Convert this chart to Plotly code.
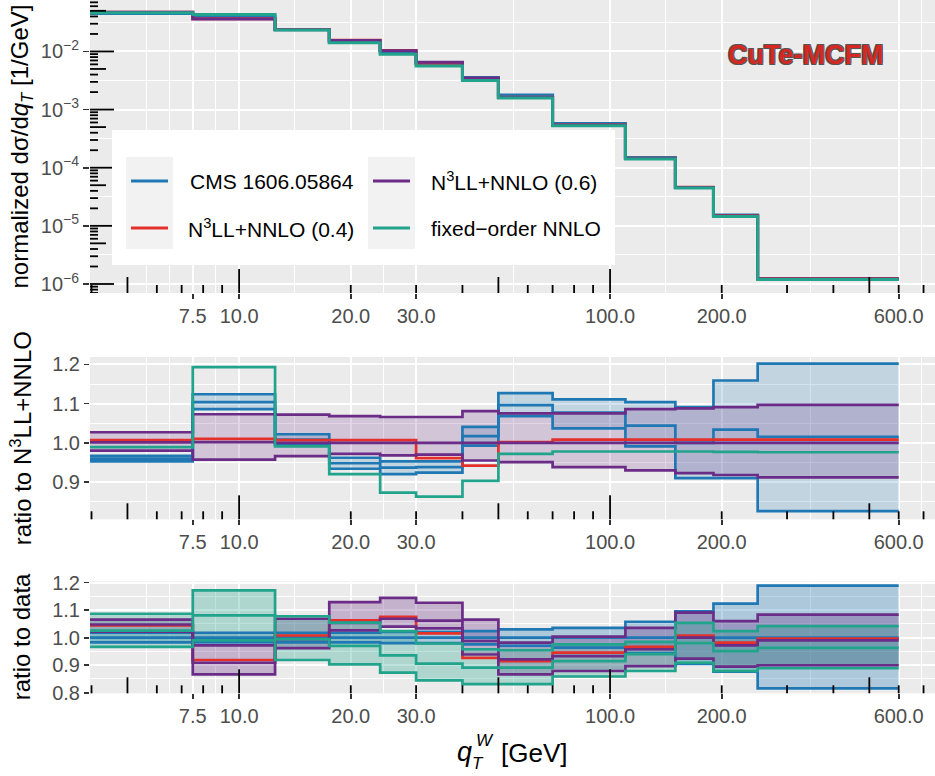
import math
import plotly.graph_objects as go

W, H = 935, 776

# ---------------- data ----------------
edges = [0, 7.5, 12.5, 17.5, 24, 30, 40, 50, 70, 110, 150, 190, 250, 600]
x_ticks = [7.5, 10, 20, 30, 100, 200, 600]
x_tick_labels = ["7.5", "10.0", "20.0", "30.0", "100.0", "200.0", "600.0"]
y_top_ticks = [1e-6, 1e-5, 1e-4, 1e-3, 1e-2]
y_top_labels = ["10<sup>−6</sup>", "10<sup>−5</sup>", "10<sup>−4</sup>", "10<sup>−3</sup>", "10<sup>−2</sup>"]
ratio_ticks_mid = [0.9, 1.0, 1.1, 1.2]
ratio_ticks_bot = [0.8, 0.9, 1.0, 1.1, 1.2]

series_names = ["CMS 1606.05864", "N<sup>3</sup>LL+NNLO (0.4)", "N<sup>3</sup>LL+NNLO (0.6)", "fixed−order NNLO"]

# normalized dsigma/dqT of the reference prediction N3LL+NNLO (0.6) [1/GeV]
n3ll06_norm = [0.047, 0.0362, 0.0236, 0.0154, 0.0103, 0.0065, 0.0035, 0.00162,
               5.37e-4, 1.44e-4, 4.57e-5, 1.48e-5, 1.22e-6]

# ratio to N3LL+NNLO (middle panel)
cms_mid = [0.960, 1.104, 1.008, 0.948, 0.937, 0.938, 1.017, 1.096, 1.077, 1.044, 1.000, 1.034, 1.015]
cms_mid_lo = [0.953, 1.086, 0.995, 0.934, 0.920, 0.924, 0.993, 1.068, 1.037, 0.991, 0.910, 0.910, 0.826]
cms_mid_hi = [0.967, 1.124, 1.022, 0.962, 0.953, 0.953, 1.041, 1.127, 1.111, 1.104, 1.091, 1.159, 1.202]
n3ll04_mid = [1.007, 1.010, 1.007, 1.007, 1.007, 0.961, 0.942, 1.002, 1.008, 1.008, 1.008, 1.008, 1.008]
n3ll06_mid = [1.001, 1.002, 1.000, 1.000, 1.000, 1.000, 1.000, 1.000, 1.000, 1.000, 1.000, 1.000, 1.000]
n3ll06_mid_lo = [0.980, 0.957, 0.966, 0.972, 0.968, 0.970, 0.955, 0.951, 0.938, 0.930, 0.923, 0.918, 0.912]
n3ll06_mid_hi = [1.027, 1.073, 1.072, 1.068, 1.066, 1.066, 1.081, 1.075, 1.075, 1.086, 1.088, 1.091, 1.097]
fixed_mid = [0.989, 1.193, 0.991, 0.920, 0.873, 0.863, 0.903, 0.972, 0.978, 0.978, 0.978, 0.977, 0.976]

# ratio to data (bottom panel)
cms_bot = [1.000, 1.000, 1.000, 1.000, 1.000, 1.000, 1.000, 1.000, 1.000, 1.000, 1.000, 1.000, 1.000]
cms_bot_lo = [0.983, 0.983, 0.983, 0.983, 0.980, 0.980, 0.976, 0.970, 0.964, 0.943, 0.905, 0.877, 0.816]
cms_bot_hi = [1.018, 1.018, 1.018, 1.018, 1.021, 1.021, 1.024, 1.030, 1.036, 1.058, 1.096, 1.124, 1.189]
n3ll04_bot = [1.045, 0.919, 1.008, 1.063, 1.076, 1.016, 0.927, 0.915, 0.946, 0.967, 1.008, 0.982, 0.997]
n3ll06_bot = [1.048, 0.909, 0.995, 1.054, 1.069, 1.062, 0.988, 0.921, 0.933, 0.958, 1.000, 0.972, 0.990]
n3ll06_bot_lo = [1.022, 0.867, 0.962, 1.027, 1.040, 1.034, 0.939, 0.867, 0.879, 0.897, 0.924, 0.895, 0.900]
n3ll06_bot_hi = [1.066, 0.972, 1.069, 1.129, 1.145, 1.127, 1.066, 0.982, 1.004, 1.036, 1.091, 1.060, 1.084]
fixed_bot = [1.026, 1.081, 0.995, 0.970, 0.936, 0.906, 0.891, 0.891, 0.915, 0.940, 0.980, 0.951, 0.963]
fixed_bot_lo = [0.967, 0.990, 0.919, 0.903, 0.873, 0.845, 0.831, 0.831, 0.859, 0.879, 0.909, 0.879, 0.889]
fixed_bot_hi = [1.087, 1.172, 1.078, 1.055, 1.024, 0.979, 0.958, 0.955, 0.976, 0.985, 1.054, 1.024, 1.042]

# ---------------- styling ----------------
BLUE = "#1F78B4"
RED = "#E3302A"
PURPLE = "#6A2C86"
TEAL = "#22A38B"
FONT = "Liberation Sans, Arial, Helvetica, sans-serif"
GRAY_TXT = "#4D4D4D"
PANEL_BG = "#EBEBEB"

def rgba(hexcol, a):
    h = hexcol.lstrip("#")
    return "rgba(%d,%d,%d,%.3f)" % (int(h[0:2], 16), int(h[2:4], 16), int(h[4:6], 16), a)

# pixel layout
PL, PR = 90, 935
TOP = (0, 293)
MID = (357, 519.3)
BOT = (581.3, 693.3)
XRANGE = [0.598, 2.876]
XMIN_PLOT = 1.0   # stand-in for the 0 GeV edge on the log axis (clipped)

def dom(rows):
    return [1 - rows[1] / H, 1 - rows[0] / H]

xs = [XMIN_PLOT if e <= 0 else e for e in edges]

def steps(v):
    return list(v) + [v[-1]]

fig = go.Figure()

def add_line(vals, color, xa, ya, name, width=2.7):
    fig.add_trace(go.Scatter(x=xs, y=steps(vals), mode="lines", name=name,
                             line=dict(color=color, width=width, shape="hv"),
                             xaxis=xa, yaxis=ya, showlegend=False, hoverinfo="skip"))

def add_band(lo, hi, color, alpha, xa, ya, name):
    fig.add_trace(go.Scatter(x=xs, y=steps(lo), mode="lines", name=name,
                             line=dict(width=0, shape="hv"), xaxis=xa, yaxis=ya,
                             showlegend=False, hoverinfo="skip"))
    fig.add_trace(go.Scatter(x=xs, y=steps(hi), mode="lines", name=name,
                             line=dict(width=0, shape="hv"), fill="tonexty",
                             fillcolor=rgba(color, alpha), xaxis=xa, yaxis=ya,
                             showlegend=False, hoverinfo="skip"))

# ---- top panel ----
top_cms = [r * c for r, c in zip(n3ll06_norm, cms_mid)]
top_04 = [r * c for r, c in zip(n3ll06_norm, n3ll04_mid)]
top_06 = [r * c for r, c in zip(n3ll06_norm, n3ll06_mid)]
top_fix = [r * c for r, c in zip(n3ll06_norm, fixed_mid)]
add_line(top_cms, BLUE, "x", "y", series_names[0], 3)
add_line(top_04, RED, "x", "y", series_names[1], 3)
add_line(top_06, PURPLE, "x", "y", series_names[2], 3)
add_line(top_fix, TEAL, "x", "y", series_names[3], 3)

# ---- middle panel ----
add_band(cms_mid_lo, cms_mid_hi, BLUE, 0.2, "x2", "y2", series_names[0])
add_band(n3ll06_mid_lo, n3ll06_mid_hi, PURPLE, 0.2, "x2", "y2", series_names[2])
for v in (cms_mid_hi, cms_mid_lo, cms_mid):
    add_line(v, BLUE, "x2", "y2", series_names[0])
add_line(n3ll04_mid, RED, "x2", "y2", series_names[1])
for v in (n3ll06_mid_hi, n3ll06_mid_lo, n3ll06_mid):
    add_line(v, PURPLE, "x2", "y2", series_names[2])
add_line(fixed_mid, TEAL, "x2", "y2", series_names[3])

# ---- bottom panel ----
add_band(cms_bot_lo, cms_bot_hi, BLUE, 0.3, "x3", "y3", series_names[0])
add_band(n3ll06_bot_lo, n3ll06_bot_hi, PURPLE, 0.3, "x3", "y3", series_names[2])
add_band(fixed_bot_lo, fixed_bot_hi, TEAL, 0.3, "x3", "y3", series_names[3])
for v in (cms_bot_hi, cms_bot_lo, cms_bot):
    add_line(v, BLUE, "x3", "y3", series_names[0])
add_line(n3ll04_bot, RED, "x3", "y3", series_names[1])
for v in (n3ll06_bot_hi, n3ll06_bot_lo, n3ll06_bot):
    add_line(v, PURPLE, "x3", "y3", series_names[2])
for v in (fixed_bot_hi, fixed_bot_lo, fixed_bot):
    add_line(v, TEAL, "x3", "y3", series_names[3])

# ---------------- axes ----------------
minor_x = [10 ** 0.75, 10 ** 0.8125, math.sqrt(75), math.sqrt(200), math.sqrt(600),
           math.sqrt(3000), math.sqrt(20000), math.sqrt(120000), 10 ** 2.84]

def xaxis(anchor):
    return dict(type="log", range=XRANGE, domain=[PL / W, PR / W], anchor=anchor,
                automargin=False,
                tickmode="array", tickvals=x_ticks, ticktext=x_tick_labels,
                ticks="outside", ticklen=5, tickwidth=1.6, tickcolor="#333333",
                tickfont=dict(family=FONT, size=20, color=GRAY_TXT),
                ticklabelstandoff=0,
                showgrid=True, gridcolor="white", gridwidth=2,
                minor=dict(tickmode="array", tickvals=minor_x, showgrid=True,
                           gridcolor="white", gridwidth=1, ticks=""),
                showline=False, zeroline=False, fixedrange=True)

def yaxis_lin(rows, rng, ticks, anchor):
    return dict(range=rng, domain=dom(rows), anchor=anchor, automargin=False,
                tickmode="array", tickvals=ticks, ticktext=["%.1f" % t for t in ticks],
                ticks="outside", ticklen=5, tickwidth=1.6, tickcolor="#333333",
                tickfont=dict(family=FONT, size=20, color=GRAY_TXT),
                ticklabelstandoff=0,
                showgrid=True, gridcolor="white", gridwidth=2,
                minor=dict(tickmode="array", tickvals=[0.85, 0.95, 1.05, 1.15],
                           showgrid=True, gridcolor="white", gridwidth=1, ticks=""),
                showline=False, zeroline=False, fixedrange=True)

fig.update_layout(
    width=W, height=H,
    margin=dict(l=0, r=0, t=0, b=0, pad=0),
    paper_bgcolor="white", plot_bgcolor=PANEL_BG,
    showlegend=False,
    font=dict(family=FONT, size=20, color="black"),
    xaxis=xaxis("y"), xaxis2=xaxis("y2"), xaxis3=xaxis("y3"),
    yaxis=dict(type="log", range=[-6.155, -1.115], domain=dom(TOP), anchor="x",
               automargin=False,
               tickmode="array", tickvals=y_top_ticks, ticktext=y_top_labels,
               ticks="outside", ticklen=6, tickwidth=1.6, tickcolor="#333333",
               tickfont=dict(family=FONT, size=20, color=GRAY_TXT),
               ticklabelstandoff=0,
               showgrid=True, gridcolor="white", gridwidth=2,
               minor=dict(tickmode="array", tickvals=[10 ** (-k - 0.5) for k in range(1, 6)],
                          showgrid=True, gridcolor="white", gridwidth=1, ticks=""),
               showline=False, zeroline=False, fixedrange=True),
    yaxis2=yaxis_lin(MID, [0.805, 1.219], ratio_ticks_mid, "x2"),
    yaxis3=yaxis_lin(BOT, [0.798, 1.205], ratio_ticks_bot, "x3"),
)

# ---------------- log ticks (annotation_logticks style) ----------------
shapes = []
panel_w = PR - PL
def tick_len(m):
    return 24 if m == 1 else (16 if m == 5 else 8)

for xa, ya, rows in (("x", "y", TOP), ("x2", "y2", MID), ("x3", "y3", BOT)):
    ph = rows[1] - rows[0]
    for k in range(0, 3):
        for m in range(1, 10):
            v = m * 10 ** k
            lv = math.log10(v)
            if XRANGE[0] < lv < XRANGE[1]:
                shapes.append(dict(type="line", xref=xa, yref=ya + " domain",
                                   x0=v, x1=v, y0=0, y1=tick_len(m) / ph,
                                   line=dict(color="black", width=1.8), layer="above"))
for k in range(-7, -1):
    for m in range(1, 10):
        v = m * 10.0 ** k
        lv = math.log10(v)
        if -6.155 < lv < -1.115:
            shapes.append(dict(type="line", xref="x domain", yref="y",
                               x0=0, x1=tick_len(m) / panel_w, y0=v, y1=v,
                               line=dict(color="black", width=1.8), layer="above"))

# ---------------- legend (drawn) ----------------
def px(x):
    return x / W
def py(y):
    return 1 - y / H

shapes.append(dict(type="rect", xref="paper", yref="paper", x0=px(112), x1=px(615),
                   y0=py(265), y1=py(130), fillcolor="white", line=dict(width=0), layer="above"))
for kx0, kx1 in ((126, 173), (368, 415)):
    shapes.append(dict(type="rect", xref="paper", yref="paper", x0=px(kx0), x1=px(kx1),
                       y0=py(249), y1=py(157), fillcolor="#F2F2F2", line=dict(width=0), layer="above"))
legend_items = [(BLUE, 131, 168, 181, 188, series_names[0]),
                (RED, 131, 168, 228, 186, series_names[1]),
                (PURPLE, 373, 410, 181, 429, series_names[2]),
                (TEAL, 373, 410, 228, 429, series_names[3])]
annotations = []
for col, lx0, lx1, ly, tx, label in legend_items:
    shapes.append(dict(type="line", xref="paper", yref="paper", x0=px(lx0), x1=px(lx1),
                       y0=py(ly), y1=py(ly), line=dict(color=col, width=3), layer="above"))
    annotations.append(dict(text=label, x=px(tx), y=py(ly), xref="paper", yref="paper",
                            xanchor="left", yanchor="middle", showarrow=False,
                            font=dict(family=FONT, size=21, color="black")))

# ---------------- titles ----------------
def ann(text, x, y, size, color="black", xanchor="center", yanchor="middle", angle=0, **kw):
    annotations.append(dict(text=text, x=px(x), y=py(y), xref="paper", yref="paper",
                            xanchor=xanchor, yanchor=yanchor, showarrow=False, textangle=angle,
                            font=dict(family=FONT, size=size, color=color, **kw)))

ann("normalized dσ/d<i>q</i><sub><i>T</i></sub> [1/GeV]", 21, (TOP[0] + TOP[1]) / 2, 24, angle=-90)
ann("ratio to N<sup>3</sup>LL+NNLO", 21, (MID[0] + MID[1]) / 2, 24, angle=-90)
ann("ratio to data", 21, (BOT[0] + BOT[1]) / 2, 24, angle=-90)
ann("<i>q</i>", 464, 752, 27)
ann("<i>W</i>", 485, 740, 17)
ann("<i>T</i>", 478, 763, 17)
ann("[GeV]", 499, 753, 26, xanchor="left")

ann("CuTe-MCFM", 805, 55, 27, color="#D62822",
    weight=700,
    shadow="1px 1px 0 #555, -1px -1px 0 #555, 1px -1px 0 #555, -1px 1px 0 #555")

fig.update_layout(shapes=shapes, annotations=annotations)
fig.write_html("out.html",
               config={"displayModeBar": False, "staticPlot": True},
               post_script="document.body.style.margin='0px';document.body.style.overflow='hidden';")
